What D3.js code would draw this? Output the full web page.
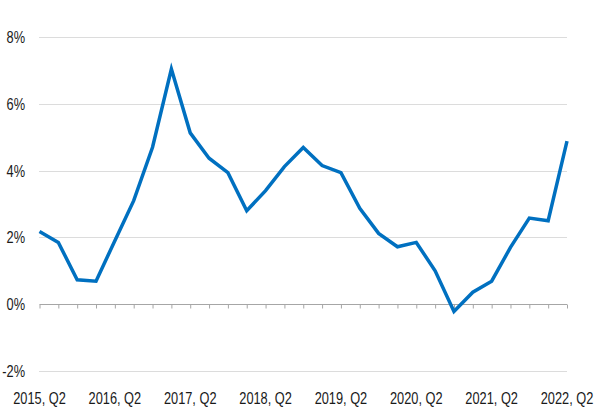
<!DOCTYPE html>
<html>
<head>
<meta charset="utf-8">
<script src="https://cdn.jsdelivr.net/npm/d3@7"></script>
<style>
html,body{margin:0;padding:0;background:#fff;}
svg{display:block;}
text{font-family:"Liberation Sans",Arial,sans-serif;fill:#1a1a1a;}
</style>
</head>
<body>
<svg id="chart" width="602" height="412"></svg>
<script>
const quarters = ["2015, Q2","2015, Q3","2015, Q4","2016, Q1","2016, Q2","2016, Q3","2016, Q4","2017, Q1","2017, Q2","2017, Q3","2017, Q4","2018, Q1","2018, Q2","2018, Q3","2018, Q4","2019, Q1","2019, Q2","2019, Q3","2019, Q4","2020, Q1","2020, Q2","2020, Q3","2020, Q4","2021, Q1","2021, Q2","2021, Q3","2021, Q4","2022, Q1","2022, Q2"];
const values = [2.18,1.85,0.73,0.69,1.9,3.1,4.7,7.04,5.13,4.37,3.94,2.8,3.4,4.12,4.69,4.15,3.94,2.87,2.12,1.72,1.85,1.0,-0.22,0.36,0.69,1.7,2.58,2.5,4.88];
const yTicks = [-2,0,2,4,6,8];
const labelQuarters = ["2015, Q2","2016, Q2","2017, Q2","2018, Q2","2019, Q2","2020, Q2","2021, Q2","2022, Q2"];

const svg = d3.select("#chart");
const mLeft = 39.5, mRight = 567, mTop = 37, mBottom = 371;
const sx = 0.8;

const x = d3.scalePoint().domain(quarters).range([mLeft, mRight]);
const y = d3.scaleLinear().domain([-2, 8]).range([mBottom, mTop]);

// gridlines
svg.append("g").selectAll("line").data(yTicks.filter(d => d !== 0)).join("line")
  .attr("x1", mLeft).attr("x2", mRight)
  .attr("y1", d => Math.round(y(d)) + 0.5).attr("y2", d => Math.round(y(d)) + 0.5)
  .attr("stroke", "#b8b8b8").attr("stroke-width", 1).attr("stroke-dasharray", "1,1");

// y labels
svg.append("g").selectAll("text").data(yTicks).join("text")
  .attr("transform", d => `translate(25,${y(d) + 6}) scale(${sx},1)`)
  .attr("text-anchor", "end").attr("font-size", 16)
  .text(d => d + "%");

// x axis at 0
const xAxis = d3.axisBottom(x).tickSize(4).tickFormat("");
const ax = svg.append("g").attr("transform", `translate(0,${Math.round(y(0)) + 0.5})`).call(xAxis);
ax.select(".domain").attr("stroke", "#a6a6a6").attr("d", `M${mLeft},0H${mRight}`);
ax.selectAll(".tick line").attr("stroke", "#a6a6a6");

// x labels
svg.append("g").selectAll("text").data(labelQuarters).join("text")
  .attr("transform", d => `translate(${x(d)},404) scale(${sx},1)`)
  .attr("text-anchor", "middle").attr("font-size", 16)
  .text(d => d);

// line
const line = d3.line().x((d, i) => x(quarters[i])).y(d => y(d));
svg.append("path").datum(values)
  .attr("d", line)
  .attr("fill", "none")
  .attr("stroke", "#0070c0")
  .attr("stroke-width", 3.5)
  .attr("stroke-linejoin", "miter");
</script>
</body>
</html>
